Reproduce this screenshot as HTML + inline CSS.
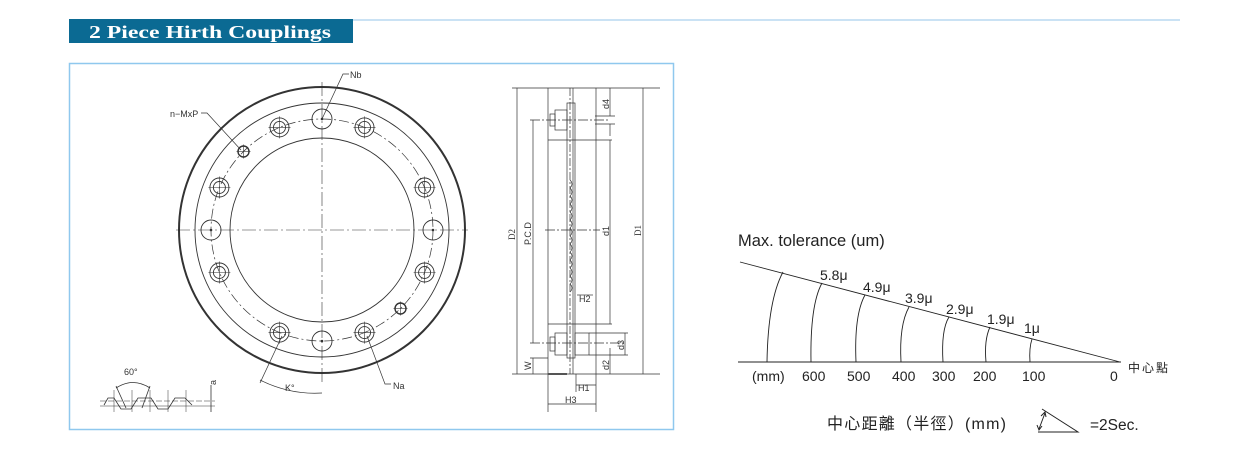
<!DOCTYPE html>
<html><head><meta charset="utf-8"><style>
html,body{margin:0;padding:0;background:#fff;}
svg{display:block;}
text{font-family:"Liberation Sans","Noto Sans CJK TC",sans-serif;}
</style></head><body>
<svg width="1251" height="460" viewBox="0 0 1251 460" xmlns="http://www.w3.org/2000/svg">
<defs>
<g id="cb"><circle r="9.5" fill="none" stroke="#333" stroke-width="0.9"/><circle r="6" fill="none" stroke="#333" stroke-width="0.9"/><line x1="-11" y1="0" x2="11" y2="0" stroke="#333" stroke-width="0.6"/><line x1="0" y1="-11" x2="0" y2="11" stroke="#333" stroke-width="0.6"/></g>
<g id="ph"><circle r="10" fill="none" stroke="#333" stroke-width="0.9"/><circle r="1.3" fill="#333"/></g>
<g id="sh"><circle r="5.5" fill="none" stroke="#333" stroke-width="1.4"/><line x1="-7" y1="0" x2="7" y2="0" stroke="#333" stroke-width="0.6"/><line x1="0" y1="-7" x2="0" y2="7" stroke="#333" stroke-width="0.6"/></g>
</defs>
<!-- header -->
<rect x="69" y="19" width="284" height="24" fill="#0b6a93"/>
<line x1="353" y1="20" x2="1180" y2="20" stroke="#b9d8f0" stroke-width="1.5"/>
<text x="89" y="38" style="font-family:'Liberation Serif',serif;font-weight:bold;font-size:18px" fill="#fff" textLength="242" lengthAdjust="spacingAndGlyphs">2 Piece Hirth Couplings</text>
<rect x="69.5" y="63.5" width="604" height="366" fill="none" stroke="#8fc8ee" stroke-width="1.5"/>

<!-- front view -->
<g fill="none" stroke="#333">
<circle cx="322" cy="230" r="143" stroke-width="2"/>
<circle cx="322" cy="230" r="127" stroke-width="0.9"/>
<circle cx="322" cy="230" r="111" stroke-width="0.7" stroke-dasharray="10,3,2,3"/>
<circle cx="322" cy="230" r="92" stroke-width="0.9"/>
<line x1="176" y1="230" x2="468" y2="230" stroke-width="0.6" stroke-dasharray="14,3,2,3"/>
<line x1="322" y1="82" x2="322" y2="384" stroke-width="0.6" stroke-dasharray="14,3,2,3"/>
</g>
<use href="#ph" x="322" y="119"/><use href="#ph" x="433" y="230"/><use href="#ph" x="322" y="341"/><use href="#ph" x="211" y="230"/>
<use href="#cb" x="364.5" y="127.4"/><use href="#cb" x="424.6" y="187.5"/><use href="#cb" x="424.6" y="272.5"/><use href="#cb" x="364.5" y="332.6"/>
<use href="#cb" x="279.5" y="332.6"/><use href="#cb" x="219.4" y="272.5"/><use href="#cb" x="219.4" y="187.5"/><use href="#cb" x="279.5" y="127.4"/>
<use href="#sh" x="243.5" y="151.5"/><use href="#sh" x="400.5" y="308.5"/>
<g fill="none" stroke="#333" stroke-width="0.7">
<polyline points="322,119 343,74 349,74"/>
<polyline points="241,150 207,113 201,113"/>
<polyline points="367,336 385,384 391,384"/>
<line x1="282" y1="336" x2="260" y2="383"/>
<path d="M260,380 Q290,395 322,393"/>
</g>
<g font-size="9" fill="#333">
<text x="350" y="78">Nb</text>
<text x="170" y="117">n−MxP</text>
<text x="393" y="389">Na</text>
<text x="285" y="391">K°</text>
</g>
<!-- tooth profile -->
<g fill="none" stroke="#333" stroke-width="0.8">
<polyline points="104,405 108,398 114,398 121,409 131,409 138,398 151,398 158,409 168,409 175,398 185,398 192,405"/>
<line x1="100" y1="401" x2="215" y2="401" stroke-width="0.5" stroke-dasharray="6,2"/>
<line x1="100" y1="406" x2="215" y2="406" stroke-width="0.5"/>
<line x1="116" y1="386" x2="126" y2="408"/><line x1="150" y1="386" x2="142" y2="408"/>
<path d="M116,388 Q133,377 150,388"/>
<line x1="114" y1="390" x2="114" y2="412" stroke-width="0.5"/><line x1="132" y1="390" x2="132" y2="412" stroke-width="0.5"/>
<line x1="150" y1="390" x2="150" y2="412" stroke-width="0.5"/><line x1="168" y1="390" x2="168" y2="412" stroke-width="0.5"/>
<line x1="186" y1="390" x2="186" y2="412" stroke-width="0.5"/>
<line x1="211" y1="385" x2="211" y2="412"/>
</g>
<text x="124" y="375" font-size="9" fill="#333">60°</text>
<text x="216" y="385" font-size="9" fill="#333" transform="rotate(-90 216 385)">a</text>

<!-- side view -->
<g fill="none" stroke="#333" stroke-width="0.7">
<line x1="517" y1="88" x2="517" y2="374"/>
<line x1="512" y1="88" x2="660" y2="88"/>
<line x1="512" y1="374" x2="660" y2="374"/>
<line x1="643" y1="88" x2="643" y2="374"/>
<line x1="548" y1="88" x2="548" y2="412"/>
<line x1="596" y1="88" x2="596" y2="412"/>
<line x1="548" y1="140" x2="612" y2="140"/>
<line x1="548" y1="324" x2="612" y2="324"/>
<rect x="567" y="103" width="8" height="255"/>
<line x1="570" y1="88" x2="570" y2="374" stroke-dasharray="8,2,2,2"/>
<line x1="573" y1="88" x2="573" y2="374"/>
<rect x="555" y="110" width="12" height="20"/><rect x="550" y="114" width="5" height="12"/>
<rect x="555" y="333" width="12" height="22"/><rect x="550" y="337" width="5" height="14"/>
<rect x="575" y="333" width="14" height="22"/>
<line x1="530" y1="120" x2="608" y2="120" stroke-dasharray="10,2,2,2"/>
<line x1="530" y1="343" x2="625" y2="343" stroke-dasharray="10,2,2,2"/>
<line x1="533" y1="120" x2="533" y2="343"/>
<line x1="610" y1="140" x2="610" y2="324"/>
<line x1="610" y1="88" x2="610" y2="116"/><line x1="610" y1="124" x2="610" y2="136"/>
<line x1="595" y1="116" x2="615" y2="116"/><line x1="595" y1="124" x2="615" y2="124"/>
<line x1="589" y1="333" x2="628" y2="333"/><line x1="589" y1="355" x2="628" y2="355"/>
<line x1="625" y1="333" x2="625" y2="355"/>
<line x1="610" y1="348" x2="610" y2="374"/>
<line x1="530" y1="358" x2="548" y2="358"/><line x1="533" y1="358" x2="533" y2="374"/>
<line x1="576" y1="385" x2="596" y2="385"/><line x1="576" y1="374" x2="576" y2="392"/>
<line x1="548" y1="404" x2="596" y2="404"/>
<line x1="577" y1="295" x2="593" y2="295"/>
<line x1="545" y1="230" x2="600" y2="230" stroke-dasharray="10,2,2,2"/>
<path d="M570,180 q4,4 0,8 q4,4 0,8 q4,4 0,8 q4,4 0,8 q4,4 0,8 q4,4 0,8 q4,4 0,8 q4,4 0,8 q4,4 0,8 q4,4 0,8 q4,4 0,8 q4,4 0,8 q4,4 0,8 q4,4 0,8"/>
</g>
<line x1="548" y1="374" x2="567" y2="374" stroke="#555" stroke-width="2"/>
<g font-size="9" fill="#333">
<text x="515" y="240" transform="rotate(-90 515 240)" style="font-family:'Liberation Serif',serif">D2</text>
<text x="531" y="245" transform="rotate(-90 531 245)">P.C.D</text>
<text x="609" y="236" transform="rotate(-90 609 236)">d1</text>
<text x="641" y="236" transform="rotate(-90 641 236)" style="font-family:'Liberation Serif',serif">D1</text>
<text x="609" y="109" transform="rotate(-90 609 109)">d4</text>
<text x="609" y="370" transform="rotate(-90 609 370)">d2</text>
<text x="624" y="350" transform="rotate(-90 624 350)">d3</text>
<text x="531" y="370" transform="rotate(-90 531 370)">W</text>
<text x="579" y="302">H2</text>
<text x="578" y="391">H1</text>
<text x="565" y="403">H3</text>
</g>

<!-- tolerance chart -->
<text x="738" y="246" font-size="16.5" fill="#222">Max. tolerance (um)</text>
<g fill="none" stroke="#222" stroke-width="0.9">
<line x1="738" y1="362" x2="1121" y2="362"/>
<line x1="740" y1="262" x2="1120" y2="362"/>
<path d="M767,362 Q768,300 783,272"/>
<path d="M811,362 Q810,305 822,283"/>
<path d="M856,362 Q854,315 865,295"/>
<path d="M901,362 Q899,325 909,307"/>
<path d="M943,362 Q941,330 949,317"/>
<path d="M986,362 Q984,340 990,327"/>
<path d="M1030,362 Q1029,348 1032,339"/>
</g>
<g font-size="14" fill="#222">
<text x="820" y="280">5.8μ</text>
<text x="863" y="292">4.9μ</text>
<text x="905" y="303">3.9μ</text>
<text x="946" y="314">2.9μ</text>
<text x="987" y="324">1.9μ</text>
<text x="1024" y="333">1μ</text>
<text x="752" y="381">(mm)</text>
<text x="802" y="381">600</text>
<text x="847" y="381">500</text>
<text x="892" y="381">400</text>
<text x="932" y="381">300</text>
<text x="973" y="381">200</text>
<text x="1022" y="381">100</text>
<text x="1110" y="381">0</text>
<text x="1090" y="430" font-size="15.5">=2Sec.</text>
</g>
<text x="1128" y="372" font-size="12" fill="#222" textLength="40">中心點</text>
<text x="827" y="429" font-size="16" fill="#222" textLength="179">中心距離（半徑）(mm)</text>
<g fill="none" stroke="#222" stroke-width="1">
<polyline points="1042,409 1078,432 1038,432"/>
<line x1="1045" y1="413" x2="1039" y2="429"/>
<path d="M1041,416 l4,-4 l1,5 M1037,425 l2,5 l3,-4"/>
</g>
</svg>
</body></html>
